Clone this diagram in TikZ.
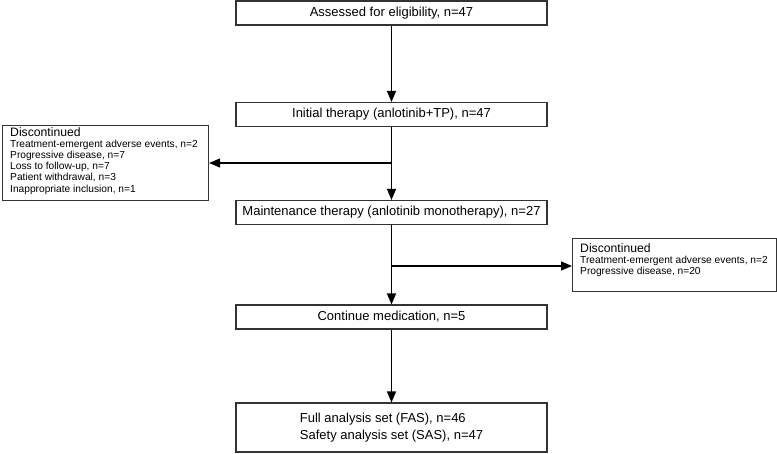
\documentclass[tikz,border=0pt]{standalone}
\usepackage{fontspec}
\setmainfont{Liberation Sans}
\usetikzlibrary{arrows.meta}
\begin{document}
\begin{tikzpicture}[x=1pt,y=-1pt,
  mainbox/.style={draw=black!80, line width=1.1pt, minimum width=311pt, minimum height=24pt, inner sep=0pt, font=\fontsize{13}{15}\selectfont, align=center},
  sidebox/.style={draw=black!80, line width=1.1pt, inner sep=0pt},
  sidetext/.style={anchor=north west, inner sep=0pt, align=left, font=\fontsize{10.2}{11.2}\selectfont},
  flow/.style={line width=1.2pt, -{Triangle[length=11pt,width=9pt]}}]
\useasboundingbox (0,0) rectangle (777,454);
\node[mainbox] (b1) at (391.5,13) {Assessed for eligibility, n=47};
\node[mainbox] (b2) at (391.5,114.5) {Initial therapy (anlotinib+TP), n=47};
\node[mainbox] (b3) at (391.5,212.5) {Maintenance therapy (anlotinib monotherapy), n=27};
\node[mainbox] (b4) at (391.5,317) {Continue medication, n=5};
\node[mainbox, minimum height=49pt, align=left, font=\fontsize{13}{17}\selectfont] (b5) at (391.5,427.5) {Full analysis set (FAS), n=46\\Safety analysis set (SAS), n=47};
\node[sidebox, minimum width=206pt, minimum height=75pt, anchor=north west] (d1) at (2,125) {};
\node[sidetext] (d1t) at (10,127) {{\fontsize{12.2}{13}\selectfont Discontinued}\\Treatment-emergent adverse events, n=2\\Progressive disease, n=7\\Loss to follow-up, n=7\\Patient withdrawal, n=3\\Inappropriate inclusion, n=1};
\node[sidebox, minimum width=204pt, minimum height=53pt, anchor=north west] (d2) at (572,238) {};
\node[sidetext] (d2t) at (580,243) {{\fontsize{12.2}{13}\selectfont Discontinued}\\Treatment-emergent adverse events, n=2\\Progressive disease, n=20};
\coordinate (j1) at (b2.south |- 0,163);
\coordinate (j2) at (b3.south |- 0,266);
\draw[flow] (b1.south) -- (b2.north);
\draw[flow] (b2.south) -- (b3.north);
\draw[flow] (j1) -- (j1 -| d1.east);
\draw[flow] (b3.south) -- (b4.north);
\draw[flow] (j2) -- (j2 -| d2.west);
\draw[flow] (b4.south) -- (b5.north);
\end{tikzpicture}
\end{document}
